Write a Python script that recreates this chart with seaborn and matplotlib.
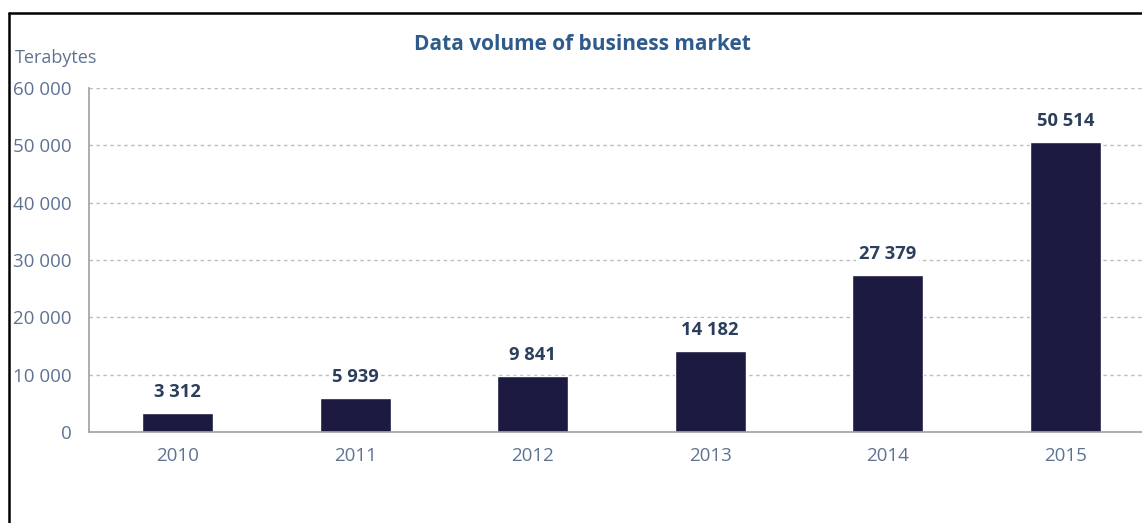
import matplotlib
matplotlib.use("Agg")
import matplotlib.pyplot as plt
from matplotlib.lines import Line2D
from matplotlib.ticker import FuncFormatter, FixedLocator
import seaborn as sns
import pandas as pd

years = ["2010", "2011", "2012", "2013", "2014", "2015"]
volumes = [3312, 5939, 9841, 14182, 27379, 50514]
y_ticks = [0, 10000, 20000, 30000, 40000, 50000, 60000]

title = "Data volume of business market"
unit_label = "Terabytes"

bar_color = "#1c1a40"
label_color = "#2b3f5c"
tick_color = "#5f7391"
title_color = "#2f5b8c"
axis_color = "#a0a0a0"

sns.set_style("white")
plt.rcParams["font.family"] = ["Open Sans", "DejaVu Sans"]

W, H = 1142, 523
fig = plt.figure(figsize=(W / 100, H / 100), dpi=100)
fig.patch.set_facecolor("white")

# Plot area extends past the right edge of the canvas
left, right = 89, 1154
bottom, top = 432, 88
ax = fig.add_axes([left / W, (H - bottom) / H, (right - left) / W, (bottom - top) / H])

df = pd.DataFrame({"year": years, "volume": volumes})
sns.barplot(data=df, x="year", y="volume", color=bar_color, width=0.4,
            saturation=1, ax=ax, zorder=3)

ax.set_xlim(-0.5, len(years) - 0.5)
ax.set_ylim(0, 60000)
ax.yaxis.set_major_locator(FixedLocator(y_ticks))
ax.yaxis.set_major_formatter(FuncFormatter(lambda v, p: f"{int(v):,}".replace(",", " ")))
ax.set_axisbelow(True)
ax.yaxis.grid(True, linestyle=(0, (2.5, 2.5)), color="#bdbdbd", linewidth=1)
ax.xaxis.grid(False)

ax.set_xlabel("")
ax.set_ylabel("")
for s in ["top", "right"]:
    ax.spines[s].set_visible(False)
for s in ["left", "bottom"]:
    ax.spines[s].set_color(axis_color)
    ax.spines[s].set_linewidth(1.2)
    ax.spines[s].set_zorder(4)

ax.tick_params(axis="y", which="major", length=4, color=axis_color, direction="out",
               labelcolor=tick_color, labelsize=13.5, pad=8.5)
ax.tick_params(axis="x", which="major", length=0, labelcolor=tick_color, labelsize=13.5, pad=10.5)
ax.xaxis.set_minor_locator(FixedLocator([i + 0.5 for i in range(len(years) - 1)]))
ax.tick_params(axis="x", which="minor", length=5, color=axis_color, direction="out")

for i, v in enumerate(volumes):
    ax.annotate(f"{v:,}".replace(",", " "), xy=(i, v), xytext=(0, 21),
                textcoords="offset pixels", ha="center", va="center",
                fontsize=13.2, fontweight="bold", color=label_color, zorder=5,
                bbox=dict(boxstyle="square,pad=0.15", facecolor="white", edgecolor="none"))

fig.text(582 / W, 1 - 45 / H, title, ha="center", va="center", fontsize=15,
         fontweight="bold", color=title_color)
fig.text(15 / W, 1 - 58 / H, unit_label, ha="left", va="center", fontsize=13,
         color=tick_color)

# Outer frame (top and left edges)
fig.add_artist(Line2D([9 / W, 1], [1 - 13 / H, 1 - 13 / H], color="black", linewidth=1.8,
                      transform=fig.transFigure))
fig.add_artist(Line2D([9 / W, 9 / W], [0, 1 - 13 / H], color="black", linewidth=1.8,
                      transform=fig.transFigure))

fig.savefig("out.png", dpi=100, facecolor="white")
